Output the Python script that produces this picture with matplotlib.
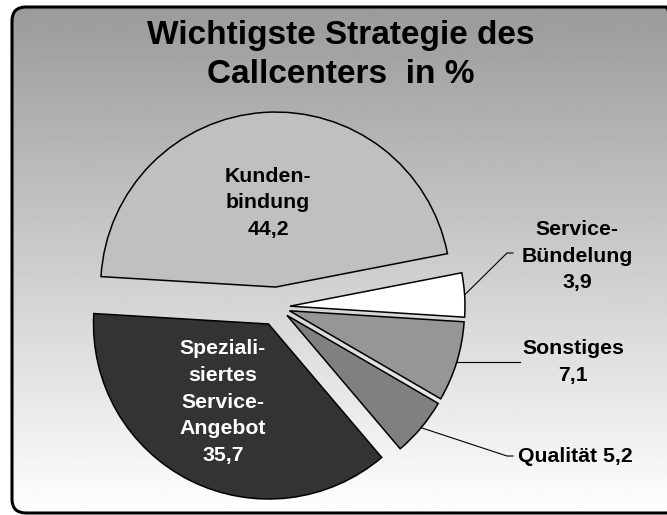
import numpy as np
import matplotlib
matplotlib.use('Agg')
import matplotlib.pyplot as plt
from matplotlib.patches import FancyBboxPatch

plt.rcParams['font.family'] = ['Liberation Sans', 'DejaVu Sans']

# data (values as printed; they do not add up to 100)
labels = ['Kunden-\nbindung', 'Speziali-\nsiertes\nService-\nAngebot', 'Qualität', 'Sonstiges', 'Service-\nBündelung']
values = [44.2, 35.7, 5.2, 7.1, 3.9]
colors = ['#c0c0c0', '#333333', '#808080', '#969696', '#ffffff']
explode = [20, 19, 13, 13, 13]   # offsets in pixels

W, H = 667, 515
fig = plt.figure(figsize=(W / 100, H / 100), dpi=100)
ax = fig.add_axes([0, 0, 1, 1])
ax.set_xlim(0, W)
ax.set_ylim(0, H)
ax.axis('off')

# rounded frame with grey-to-white gradient
frame = FancyBboxPatch((12, 2), 668, 506, boxstyle='round,pad=0,rounding_size=14',
                       facecolor='none', edgecolor='black', linewidth=2.2, zorder=1)
grad = np.linspace(1.0, 0.6, 256).reshape(-1, 1)
img = ax.imshow(grad, cmap='gray', vmin=0, vmax=1, extent=[0, W, 0, H],
                origin='lower', aspect='auto', zorder=0)
ax.add_patch(frame)
img.set_clip_path(frame)

cx, cy, r = 277, H - 307, 175
wedges, _ = ax.pie(values, colors=colors, explode=explode, startangle=11,
                   counterclock=True, center=(cx, cy), radius=r, frame=True,
                   wedgeprops=dict(edgecolor='black', linewidth=1.1))
ax.set_xlim(0, W)
ax.set_ylim(0, H)
ax.set_aspect('auto')
ax.axis('off')

ax.text(W / 2 + 7, H - 55, 'Wichtigste Strategie des\nCallcenters  in %', ha='center', va='center',
        fontsize=24, fontweight='bold', linespacing=1.37)

fs = 15.3
ls = 1.5
def fmt(v):
    return f'{v:.1f}'.replace('.', ',')

# inside labels
ax.text(268, H - 203, f'{labels[0]}\n{fmt(values[0])}', ha='center', va='center',
        fontsize=fs, fontweight='bold', linespacing=ls)
ax.text(223, H - 402, f'{labels[1]}\n{fmt(values[1])}', ha='center', va='center',
        fontsize=fs, fontweight='bold', linespacing=ls, color='white')

# outside labels with leader lines
def mid_point(i):
    w = wedges[i]
    a = np.deg2rad((w.theta1 + w.theta2) / 2)
    x0, y0 = w.center
    return x0 + r * np.cos(a), y0 + r * np.sin(a)

x, y = mid_point(4)
ax.plot([x, 507, 513], [y, H - 253, H - 253], color='black', lw=0.8)
ax.text(577, H - 256, f'{labels[4]}\n{fmt(values[4])}', ha='center', va='center',
        fontsize=fs, fontweight='bold', linespacing=ls)

x, y = mid_point(3)
ax.plot([x, 520], [y, y], color='black', lw=0.8)
ax.text(573, H - 362, f'{labels[3]}\n{fmt(values[3])}', ha='center', va='center',
        fontsize=fs, fontweight='bold', linespacing=ls)

x, y = mid_point(2)
ax.plot([x, 507, 513], [y, H - 456, H - 456], color='black', lw=0.8)
ax.text(518, H - 457, f'{labels[2]} {fmt(values[2])}', ha='left', va='center',
        fontsize=fs, fontweight='bold')

fig.savefig('out.png', dpi=100)
